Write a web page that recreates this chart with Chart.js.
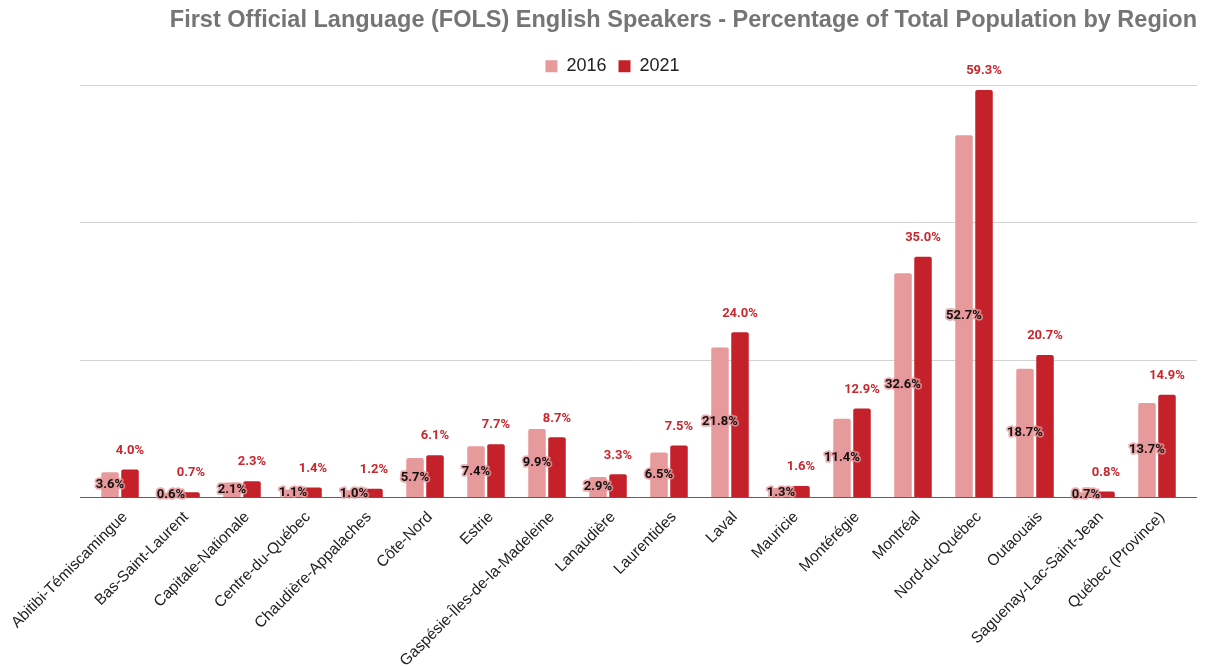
<!DOCTYPE html>
<html>
<head>
<meta charset="utf-8">
<script src="https://cdn.jsdelivr.net/npm/chart.js@4/dist/chart.umd.min.js"></script>
<style>
  html, body { margin: 0; padding: 0; background: #ffffff; }
  #wrap { width: 1205px; height: 666px; position: relative; }
</style>
</head>
<body>
<div id="wrap"><canvas id="c" width="1205" height="666"></canvas></div>
<script>
const categories = [
  'Abitibi-Témiscamingue', 'Bas-Saint-Laurent', 'Capitale-Nationale', 'Centre-du-Québec',
  'Chaudière-Appalaches', 'Côte-Nord', 'Estrie', 'Gaspésie-Îles-de-la-Madeleine',
  'Lanaudière', 'Laurentides', 'Laval', 'Mauricie', 'Montérégie', 'Montréal',
  'Nord-du-Québec', 'Outaouais', 'Saguenay-Lac-Saint-Jean', 'Québec (Province)'
];
const values2016 = [3.6, 0.6, 2.1, 1.1, 1.0, 5.7, 7.4, 9.9, 2.9, 6.5, 21.8, 1.3, 11.4, 32.6, 52.7, 18.7, 0.7, 13.7];
const values2021 = [4.0, 0.7, 2.3, 1.4, 1.2, 6.1, 7.7, 8.7, 3.3, 7.5, 24.0, 1.6, 12.9, 35.0, 59.3, 20.7, 0.8, 14.9];
const seriesNames = ['2016', '2021'];
const yTickValues = [0, 20, 40, 60];
const titleText = 'First Official Language (FOLS) English Speakers - Percentage of Total Population by Region';

const gridPlugin = {
  id: 'gridExt',
  beforeDatasetsDraw(chart) {
    const ctx = chart.ctx, y = chart.scales.y;
    ctx.save();
    ctx.lineWidth = 1;
    y.ticks.forEach(t => {
      if (t.value === 0) return;
      const py = Math.round(y.getPixelForValue(t.value)) + 0.5;
      ctx.strokeStyle = '#d4d4d4';
      ctx.beginPath(); ctx.moveTo(80, py); ctx.lineTo(1197, py); ctx.stroke();
    });
    ctx.restore();
  },
  afterDatasetsDraw(chart) {
    const ctx = chart.ctx, y = chart.scales.y;
    ctx.save();
    const py = Math.round(y.getPixelForValue(0)) + 0.5;
    ctx.strokeStyle = '#5f5f5f';
    ctx.lineWidth = 1;
    ctx.beginPath(); ctx.moveTo(80, py); ctx.lineTo(1197, py); ctx.stroke();

    // value labels
    ctx.font = 'bold 13px Roboto, "Liberation Sans", Arial, sans-serif';
    ctx.textAlign = 'center';
    ctx.textBaseline = 'middle';
    const m0 = chart.getDatasetMeta(0);
    m0.data.forEach((bar, i) => {
      const txt = values2016[i].toFixed(1) + '%';
      const cy = (bar.y + bar.base) / 2;
      ctx.lineJoin = 'round';
      ctx.lineWidth = 3.5;
      ctx.strokeStyle = 'rgba(232,150,152,0.8)';
      ctx.strokeText(txt, bar.x, cy);
      ctx.fillStyle = '#111111';
      ctx.fillText(txt, bar.x, cy);
    });
    const m1 = chart.getDatasetMeta(1);
    ctx.fillStyle = '#c9262e';
    m1.data.forEach((bar, i) => {
      const txt = values2021[i].toFixed(1) + '%';
      ctx.fillText(txt, bar.x, bar.y - 19);
    });
    ctx.restore();
  }
};

const chart = new Chart(document.getElementById('c'), {
  type: 'bar',
  data: {
    labels: categories,
    datasets: [
      { label: seriesNames[0], data: values2016, backgroundColor: '#e69a9c', borderRadius: 2, borderSkipped: 'bottom',
        categoryPercentage: 0.656, barPercentage: 0.875 },
      { label: seriesNames[1], data: values2021, backgroundColor: '#c4212b', borderRadius: 2, borderSkipped: 'bottom',
        categoryPercentage: 0.656, barPercentage: 0.875 }
    ]
  },
  options: {
    responsive: false,
    animation: false,
    devicePixelRatio: 1,
    layout: { padding: { left: 28, right: 8, top: 5, bottom: 0 } },
    plugins: {
      title: {
        display: true, text: titleText, align: 'end', color: '#757575',
        font: { family: '"Liberation Sans", Arial, sans-serif', size: 23.5, weight: 'bold' },
        padding: { top: 1, bottom: 11 }
      },
      legend: {
        display: true, position: 'top', align: 'center',
        labels: {
          boxWidth: 12, boxHeight: 12, padding: 12, color: '#222222',
          font: { family: '"Liberation Sans", Arial, sans-serif', size: 18 }
        }
      },
      tooltip: { enabled: false }
    },
    scales: {
      x: {
        grid: { display: false },
        border: { display: false },
        ticks: {
          autoSkip: false, maxRotation: 45, minRotation: 45, color: '#222222', labelOffset: 5,
          font: { family: '"Liberation Sans", Arial, sans-serif', size: 15.5 }
        },
        afterFit(s) { s.height = 169; }
      },
      y: {
        min: 0, max: 60,
        afterBuildTicks(s) { s.ticks = yTickValues.map(v => ({ value: v })); },
        grid: { display: false },
        border: { display: false },
        ticks: {
          color: '#ffffff',
          font: { family: '"Liberation Sans", Arial, sans-serif', size: 12 },
          callback: v => v.toFixed(1) + '%'
        },
        afterFit(s) { s.width = 61.5; }
      },
      yGhost: {
        position: 'right', display: true, min: 0, max: 60,
        grid: { display: false }, border: { display: false },
        ticks: { display: false },
        afterFit(s) { s.width = 9.5; }
      }
    }
  },
  plugins: [gridPlugin]
});
</script>
</body>
</html>
